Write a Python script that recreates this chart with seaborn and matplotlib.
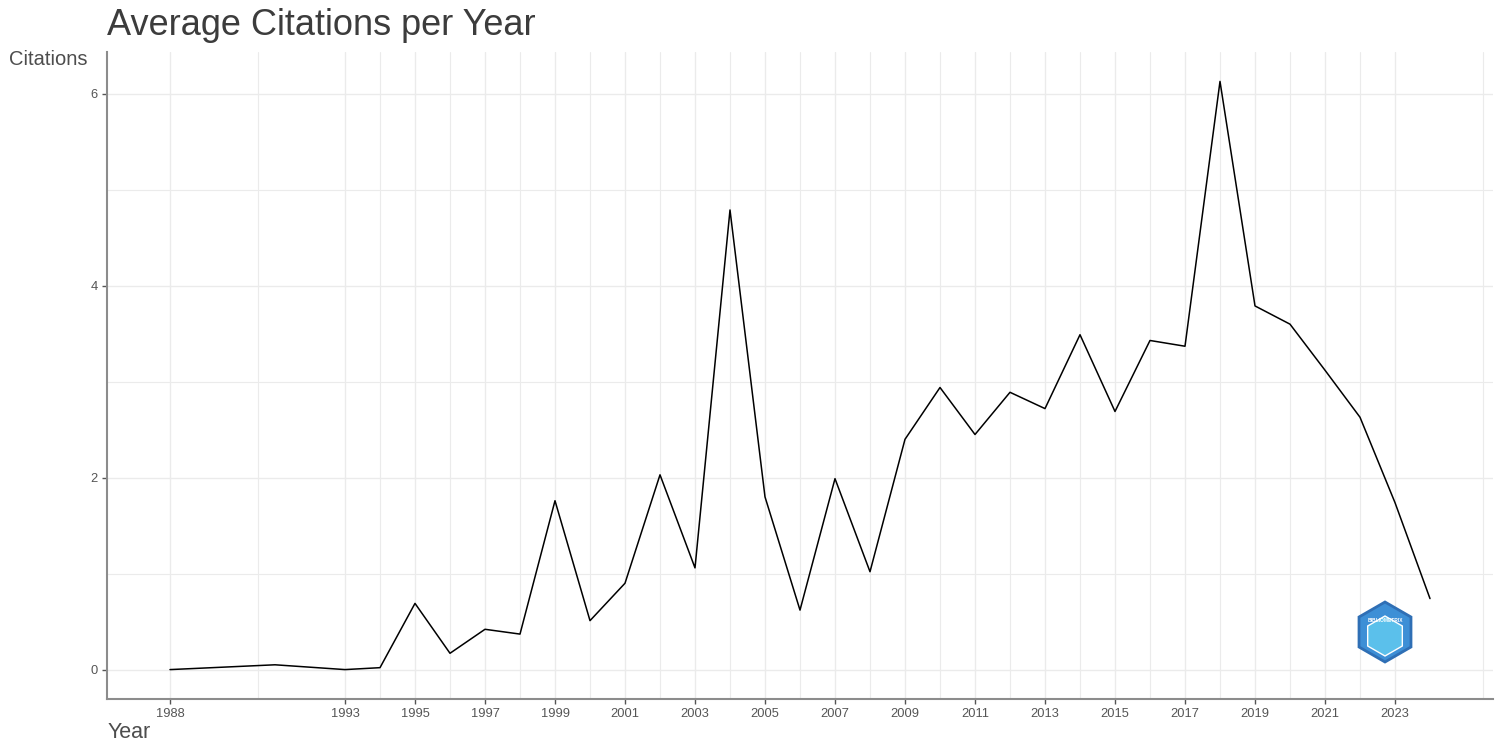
import matplotlib
matplotlib.use("Agg")
import matplotlib.pyplot as plt
import matplotlib.patches as mpatches
import seaborn as sns
import pandas as pd
import numpy as np

# ---- data ----
years = [1988, 1991, 1993, 1994, 1995, 1996, 1997, 1998, 1999, 2000, 2001, 2002,
         2003, 2004, 2005, 2006, 2007, 2008, 2009, 2010, 2011, 2012, 2013, 2014,
         2015, 2016, 2017, 2018, 2019, 2020, 2021, 2022, 2023, 2024]
citations = [0.00, 0.05, 0.00, 0.02, 0.69, 0.17, 0.42, 0.37, 1.76, 0.51, 0.90, 2.03,
             1.06, 4.79, 1.80, 0.62, 1.99, 1.02, 2.40, 2.94, 2.45, 2.89, 2.72, 3.49,
             2.69, 3.43, 3.37, 6.13, 3.79, 3.60, 3.12, 2.63, 1.74, 0.74]
x_ticks = [1988, 1993, 1995, 1997, 1999, 2001, 2003, 2005, 2007, 2009, 2011,
           2013, 2015, 2017, 2019, 2021, 2023]
y_ticks = [0, 2, 4, 6]

df = pd.DataFrame({"Year": years, "Citations": citations})

sns.set_theme(style="white")
plt.rcParams['font.family'] = ['Liberation Sans', 'DejaVu Sans']

W, H = 1502, 749
fig = plt.figure(figsize=(W / 100, H / 100), dpi=100)
ax = fig.add_axes([107 / W, 1 - 699 / H, (1493 - 107) / W, (699 - 52) / H])

# limits with ggplot-style 5% expansion
xr = max(years) - min(years)
ax.set_xlim(min(years) - 0.05 * xr, max(years) + 0.05 * xr)
yr = max(citations) - min(citations)
ax.set_ylim(min(citations) - 0.05 * yr, max(citations) + 0.05 * yr)

# grid lines (major + minor, ggplot-like)
grid_col = "#EBEBEB"
for xv in x_ticks:
    ax.axvline(xv, color=grid_col, lw=1.0, zorder=0)
x_minor = [(x_ticks[i] + x_ticks[i + 1]) / 2 for i in range(len(x_ticks) - 1)]
x_minor.append(x_ticks[-1] + (x_ticks[1] - x_ticks[0]) / 2)
for xv in x_minor:
    ax.axvline(xv, color=grid_col, lw=0.8, zorder=0)
for yv in y_ticks:
    ax.axhline(yv, color=grid_col, lw=1.0, zorder=0)
for yv in [1, 3, 5]:
    ax.axhline(yv, color=grid_col, lw=0.8, zorder=0)

sns.lineplot(data=df, x="Year", y="Citations", ax=ax, color="black", lw=1.1, zorder=3)

ax.set_xticks(x_ticks)
ax.set_xticklabels([str(v) for v in x_ticks])
ax.set_yticks(y_ticks)
ax.set_yticklabels([str(v) for v in y_ticks])
ax.tick_params(axis="both", labelsize=9.3, colors="#555555", length=3.5, width=1,
               pad=3, direction="out", bottom=True, left=True)
ax.set_xlabel("")
ax.set_ylabel("")

for s in ["top", "right"]:
    ax.spines[s].set_visible(False)
for s in ["left", "bottom"]:
    ax.spines[s].set_color("#8C8C8C")
    ax.spines[s].set_linewidth(1.5)

# titles
fig.text(107 / W, 1 - 35 / H, "Average Citations per Year", fontsize=26,
         color="#3C3C3C", ha="left", va="baseline")
fig.text(9 / W, 1 - 65 / H, "Citations", fontsize=14.5, color="#4D4D4D",
         ha="left", va="baseline")
fig.text(108 / W, 1 - 738 / H, "Year", fontsize=15.5, color="#4D4D4D",
         ha="left", va="baseline")

# logo-like hexagon badge
cx, cy = 1385 / W, 1 - 632 / H
hexo = mpatches.RegularPolygon((1385, H - 632), numVertices=6, radius=30,
                               orientation=0, transform=None,
                               facecolor="#3D8FD6", edgecolor="#2F6FB5", lw=2,
                               zorder=5)
fig.patches.append(hexo)
hexi = mpatches.RegularPolygon((1385, H - 636), numVertices=6, radius=20,
                               orientation=0, transform=None,
                               facecolor="#5BC0EB", edgecolor="white", lw=1,
                               zorder=6)
fig.patches.append(hexi)
fig.text(cx, 1 - 620 / H, "BIBLIOMETRIX", fontsize=3.5, color="white",
         ha="center", va="center", fontweight="bold", zorder=7)

fig.savefig("out.png", dpi=100)
